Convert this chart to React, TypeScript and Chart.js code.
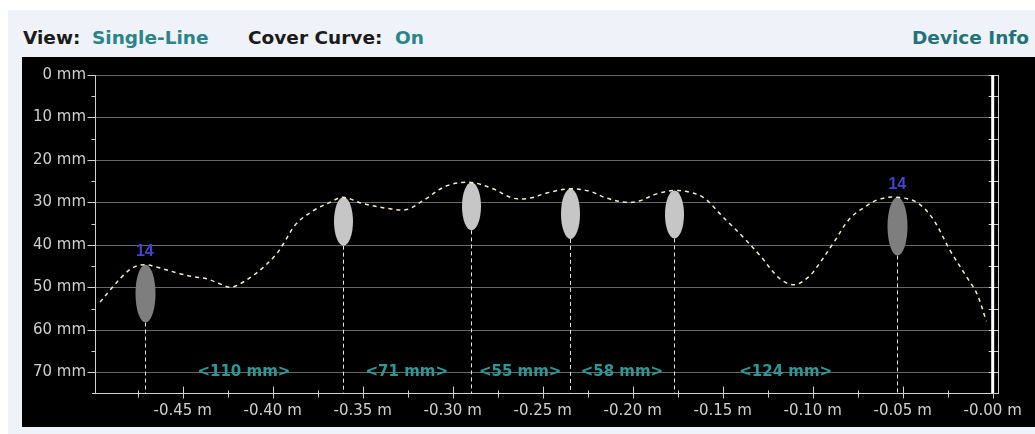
import { useEffect, useRef } from "react";
import { Chart, registerables } from "chart.js";

Chart.register(...registerables);

// Detected bars: position along the scan (m), echo extent in depth (mm), diameter where known (mm)
const barPositions = [-0.471, -0.361, -0.29, -0.235, -0.177, -0.053];
const barTopDepth = [44.7, 28.8, 25.3, 26.8, 27.2, 28.8];
const barBottomDepth = [58.3, 40.2, 36.6, 38.6, 38.5, 42.5];
const barDiameter: (number | null)[] = [14, null, null, null, null, 14];

// Cover curve: position (m) and cover depth (mm)
const curvePositions = [
  -0.4959, -0.4904, -0.483, -0.4774, -0.471, -0.464, -0.4515, -0.4441, -0.4367, -0.4293,
  -0.4237, -0.4182, -0.4108, -0.4052, -0.3978, -0.3941, -0.3868, -0.3776, -0.3682, -0.361,
  -0.3498, -0.3348, -0.3256, -0.3165, -0.3033, -0.29, -0.2776, -0.2665, -0.2571, -0.2478,
  -0.235, -0.2237, -0.2144, -0.2033, -0.1959, -0.1867, -0.177, -0.1682, -0.1608, -0.1561,
  -0.1515, -0.1459, -0.1386, -0.1293, -0.1182, -0.11, -0.1024, -0.0978, -0.0887, -0.0793,
  -0.07, -0.0626, -0.053, -0.0422, -0.0332, -0.0237, -0.0144, -0.0089, -0.0035,
];
const curveDepths = [
  53.5, 50.7, 47.2, 45.3, 44.7, 45.3, 46.8, 47.5, 48.0, 49.2,
  50.0, 49.2, 47.2, 45.3, 42.1, 39.8, 35.0, 32.0, 30.0, 28.8,
  30.3, 31.5, 31.7, 29.6, 26.1, 25.3, 26.8, 29.0, 29.0, 27.8,
  26.8, 27.4, 29.0, 30.0, 29.6, 28.0, 27.2, 27.6, 28.8, 30.6,
  32.7, 35.1, 38.2, 42.5, 48.0, 49.4, 47.6, 45.3, 39.7, 33.8,
  30.8, 29.2, 28.8, 30.0, 33.9, 41.3, 47.6, 51.4, 58.0,
];

const xTickValues = [-0.45, -0.4, -0.35, -0.3, -0.25, -0.2, -0.15, -0.1, -0.05, 0];
const xTickLabels = [
  "-0.45 m", "-0.40 m", "-0.35 m", "-0.30 m", "-0.25 m",
  "-0.20 m", "-0.15 m", "-0.10 m", "-0.05 m", "-0.00 m",
];
const yTickValues = [0, 10, 20, 30, 40, 50, 60, 70];
const yTickLabels = ["0 mm", "10 mm", "20 mm", "30 mm", "40 mm", "50 mm", "60 mm", "70 mm"];

const X_MIN = -0.4987;
const X_MAX = 0.0035;
const Y_MAX = 74.9;
const SPACING_LABEL_DEPTH = 70;

const AXIS = "#cfcfcf";
const GRID = "#666666";

const scanPlugin = {
  id: "scanFrame",
  beforeDatasetsDraw(chart: Chart) {
    const { ctx, chartArea: a } = chart;
    const x = chart.scales.x;
    const y = chart.scales.y;
    ctx.save();
    ctx.lineWidth = 1;

    // horizontal depth grid
    ctx.strokeStyle = GRID;
    yTickValues.forEach((v) => {
      const py = Math.round(y.getPixelForValue(v)) + 0.5;
      ctx.beginPath();
      ctx.moveTo(a.left, py);
      ctx.lineTo(a.right, py);
      ctx.stroke();
    });

    ctx.strokeStyle = AXIS;
    // left depth axis
    const lx = Math.round(a.left) + 0.5;
    ctx.beginPath();
    ctx.moveTo(lx, a.top);
    ctx.lineTo(lx, a.bottom);
    ctx.stroke();
    yTickValues.forEach((v) => {
      const py = Math.round(y.getPixelForValue(v)) + 0.5;
      ctx.beginPath();
      ctx.moveTo(lx - 8, py);
      ctx.lineTo(lx, py);
      ctx.stroke();
      const pm = Math.round(y.getPixelForValue(v + 5)) + 0.5;
      if (v + 5 < Y_MAX) {
        ctx.beginPath();
        ctx.moveTo(lx - 4, pm);
        ctx.lineTo(lx, pm);
        ctx.stroke();
      }
    });

    // bottom position axis
    const by = Math.round(a.bottom) + 0.5;
    ctx.beginPath();
    ctx.moveTo(a.left - 3, by);
    ctx.lineTo(a.right, by);
    ctx.stroke();
    xTickValues.forEach((v) => {
      const px = Math.round(x.getPixelForValue(v)) + 0.5;
      ctx.beginPath();
      ctx.moveTo(px, by - 7);
      ctx.lineTo(px, by + 5);
      ctx.stroke();
      const pm = Math.round(x.getPixelForValue(v - 0.025)) + 0.5;
      ctx.beginPath();
      ctx.moveTo(pm, by - 3);
      ctx.lineTo(pm, by + 4);
      ctx.stroke();
    });

    // right frame with depth ticks
    const rx = Math.round(a.right) - 0.5;
    const zx = x.getPixelForValue(0);
    ctx.beginPath();
    ctx.moveTo(rx, a.top);
    ctx.lineTo(rx, a.bottom);
    ctx.stroke();
    for (let v = 0; v < Y_MAX; v += 5) {
      const py = Math.round(y.getPixelForValue(v)) + 0.5;
      ctx.beginPath();
      ctx.moveTo(zx - 4, py);
      ctx.lineTo(rx, py);
      ctx.stroke();
    }

    // scan start marker
    ctx.strokeStyle = "#ffffff";
    ctx.lineWidth = 3;
    ctx.beginPath();
    ctx.moveTo(zx, a.top);
    ctx.lineTo(zx, a.bottom);
    ctx.stroke();

    // bar drop lines and echoes
    ctx.lineWidth = 1;
    barPositions.forEach((p, i) => {
      const px = Math.round(x.getPixelForValue(p)) + 0.5;
      const top = y.getPixelForValue(barTopDepth[i]);
      const bottom = y.getPixelForValue(barBottomDepth[i]);
      ctx.strokeStyle = "#e4e4e4";
      ctx.setLineDash([4, 3]);
      ctx.beginPath();
      ctx.moveTo(px, bottom);
      ctx.lineTo(px, a.bottom);
      ctx.stroke();
      ctx.setLineDash([]);
      const known = barDiameter[i] !== null;
      ctx.fillStyle = known ? "#7e7e7e" : "#c6c6c6";
      ctx.beginPath();
      ctx.ellipse(px, (top + bottom) / 2, known ? 10 : 9.5, (bottom - top) / 2, 0, 0, Math.PI * 2);
      ctx.fill();
    });
    ctx.restore();
  },
  afterDatasetsDraw(chart: Chart) {
    const { ctx } = chart;
    const x = chart.scales.x;
    const y = chart.scales.y;
    ctx.save();
    ctx.textAlign = "center";
    ctx.textBaseline = "middle";

    // diameter labels above the bars
    ctx.font = "bold 16px 'Liberation Sans', Arial, sans-serif";
    ctx.fillStyle = "#4444cc";
    barPositions.forEach((p, i) => {
      const d = barDiameter[i];
      if (d === null) return;
      ctx.fillText(String(d), x.getPixelForValue(p), y.getPixelForValue(barTopDepth[i]) - 13);
    });

    // spacing between neighbouring bars
    ctx.font = "bold 15px 'DejaVu Sans', sans-serif";
    ctx.fillStyle = "#2e9898";
    const ly = y.getPixelForValue(SPACING_LABEL_DEPTH);
    for (let i = 1; i < barPositions.length; i++) {
      const gap = Math.round((barPositions[i] - barPositions[i - 1]) * 1000);
      const mid = (barPositions[i] + barPositions[i - 1]) / 2;
      ctx.fillText(`<${gap} mm>`, x.getPixelForValue(mid), ly);
    }
    ctx.restore();
  },
};

function ScanChart() {
  const canvasRef = useRef<HTMLCanvasElement | null>(null);

  useEffect(() => {
    const canvas = canvasRef.current;
    if (!canvas) return;
    const chart = new Chart(canvas, {
      type: "line",
      data: {
        datasets: [
          {
            label: "Cover Curve",
            data: curvePositions.map((p, i) => ({ x: p, y: curveDepths[i] })),
            borderColor: "#f3f0c6",
            borderWidth: 1.5,
            borderDash: [4, 4],
            pointRadius: 0,
            tension: 0.35,
            fill: false,
          },
        ],
      },
      options: {
        animation: false,
        responsive: false,
        devicePixelRatio: 1,
        events: [],
        layout: { padding: { top: 17, right: 36, left: 0, bottom: 0 } },
        plugins: { legend: { display: false }, tooltip: { enabled: false } },
        scales: {
          x: {
            type: "linear",
            min: X_MIN,
            max: X_MAX,
            grid: { display: false, drawTicks: false },
            border: { display: false },
            afterBuildTicks: (s: any) => {
              s.ticks = xTickValues.map((v) => ({ value: v }));
            },
            afterFit: (s: any) => {
              s.height = 34;
            },
            ticks: {
              autoSkip: false,
              maxRotation: 0,
              padding: 9,
              color: "#cfcfcf",
              font: { family: "'DejaVu Sans'", size: 15 },
              callback: (_v: any, i: number) => xTickLabels[i],
            },
          },
          y: {
            type: "linear",
            reverse: true,
            min: 0,
            max: Y_MAX,
            grid: { display: false, drawTicks: false },
            border: { display: false },
            afterBuildTicks: (s: any) => {
              s.ticks = yTickValues.map((v) => ({ value: v }));
            },
            afterFit: (s: any) => {
              s.width = 73;
            },
            ticks: {
              autoSkip: false,
              padding: 9,
              color: "#cfcfcf",
              font: { family: "'DejaVu Sans'", size: 15 },
              callback: (_v: any, i: number) => yTickLabels[i],
            },
          },
        },
      },
      plugins: [scanPlugin],
    });
    return () => chart.destroy();
  }, []);

  return <canvas ref={canvasRef} width={1013} height={370} style={{ display: "block" }} />;
}

const headerFont = "bold 18.5px 'DejaVu Sans', sans-serif";

function HeaderWord({ left, color, text }: { left: number; color: string; text: string }) {
  return (
    <span
      style={{
        position: "absolute",
        left,
        top: 18,
        font: headerFont,
        lineHeight: "20px",
        color,
        whiteSpace: "nowrap",
      }}
    >
      {text}
    </span>
  );
}

export default function App() {
  return (
    <div
      style={{
        position: "fixed",
        left: 8,
        top: 10,
        width: 1027,
        height: 424,
        background: "#eff2f9",
        overflow: "hidden",
      }}
    >
      <HeaderWord left={15} color="#1b1b1b" text="View:" />
      <HeaderWord left={84} color="#2a8589" text="Single-Line" />
      <HeaderWord left={240} color="#1b1b1b" text="Cover Curve:" />
      <HeaderWord left={387} color="#2a8589" text="On" />
      <HeaderWord left={904} color="#23737a" text="Device Info" />
      <div
        style={{
          position: "absolute",
          left: 14,
          top: 47,
          width: 1013,
          height: 370,
          background: "#000000",
        }}
      >
        <ScanChart />
      </div>
    </div>
  );
}
